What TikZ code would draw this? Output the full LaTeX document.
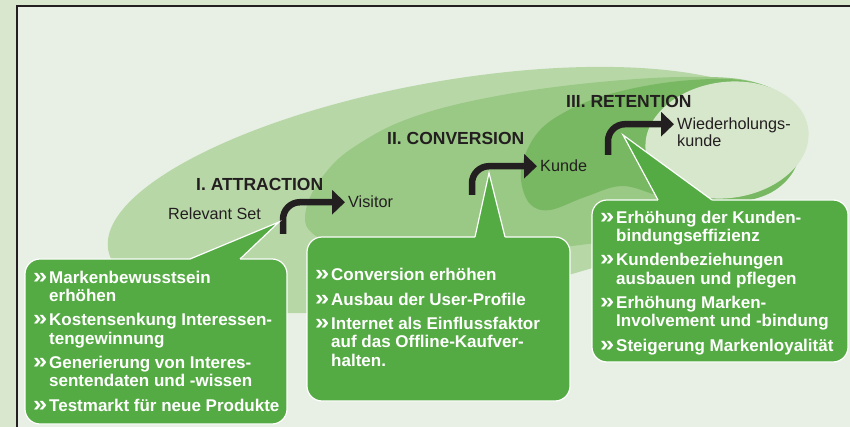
\documentclass[tikz,border=0pt]{standalone}
\usepackage{fontspec}
\usepackage{graphicx}
\setmainfont{Liberation Sans}
\usetikzlibrary{arrows.meta}

\definecolor{outerbg}{HTML}{D8E7CE}
\definecolor{innerbg}{HTML}{E8F0E5}
\definecolor{zoneA}{HTML}{B7D7A7}
\definecolor{zoneB}{HTML}{9AC885}
\definecolor{zoneC}{HTML}{78B862}
\definecolor{zoneD}{HTML}{D7E7CC}
\definecolor{boxgreen}{HTML}{55AB43}
\definecolor{ink}{HTML}{231F20}

% bullet and hanging indent for the list items
\newcommand{\bul}{\makebox[16pt][l]{\scalebox{1.5}[1.3]{»}}}
\newcommand{\ind}{\hspace*{16pt}}

\begin{document}
\begin{tikzpicture}[x=1pt,y=-1pt,
  heading/.style={font=\fontsize{17.5}{20}\selectfont\bfseries, text=ink, inner sep=0pt, anchor=base west},
  stage/.style={font=\fontsize{16.2}{17}\selectfont, text=ink, inner sep=0pt, anchor=base west, align=left},
  bent/.style={line width=6.5pt, draw=ink, rounded corners=17pt, -{Triangle[length=13pt,width=24pt]}, shorten >=3pt},
  callout/.style={fill=boxgreen, draw=white, line width=1.2pt},
  pointer/.style={draw=white, line width=1.2pt, line join=miter},
  boxtext/.style={font=\fontsize{17}{18.3}\selectfont\bfseries, text=white, inner sep=0pt, anchor=base west, align=left},
]
\useasboundingbox (0,0) rectangle (850,427);

% background and frame
\fill[outerbg] (0,0) rectangle (850,427);
\fill[innerbg] (17,6) rectangle (850,427);
\draw[ink, line width=1.8pt] (17,427) -- (17,6) -- (850,6);

% nested funnel zones
\fill[zoneA, rotate around={10:(450,190)}] (450,190) ellipse [x radius=347, y radius=109];
\fill[zoneB] plot[smooth cycle, tension=0.6] coordinates {
  (305,218) (312,193) (335,162) (365,140) (400,122) (450,106) (520,92) (600,82)
  (680,77) (745,80) (785,97) (798,125) (785,160) (745,200) (660,232) (580,245)
  (480,254) (380,252) (330,242) (311,232)};
\fill[zoneC] plot[smooth cycle, tension=0.6] coordinates {
  (521,180) (525,155) (540,130) (565,112) (600,97) (645,86) (692,80) (740,80)
  (778,92) (797,118) (801,145) (793,172) (772,192) (740,202) (700,204) (660,196)
  (622,186) (585,197) (550,210) (530,204)};
\fill[zoneD, rotate around={8:(727,140)}] (727,140) ellipse [x radius=82, y radius=58];

% stage headings and labels (multi-line nodes sit on their last baseline)
\node[heading] (h1) at (196,191) {I. ATTRACTION};
\node[heading] (h2) at (387,145) {II. CONVERSION};
\node[heading] (h3) at (566,108) {III. RETENTION};
\node[stage] (rel) at (168,220) {Relevant Set};
\node[stage] (vis) at (348,208) {Visitor};
\node[stage] (kun) at (540,172) {Kunde};
\node[stage] (wdh) at (677,147) {Wiederholungs-\\kunde};

% bent transition arrows
\coordinate (s1) at (283,234);
\coordinate (s2) at (472,195);
\coordinate (s3) at (608,155);
\draw[bent] (s1) |- (vis.west);
\draw[bent] (s2) |- (kun.west);
\draw[bent] (s3) |- ([yshift=22.8pt]wdh.base west);

% callout 1
\draw[callout, rounded corners=15pt] (25,259) rectangle (287,424);
\fill[boxgreen] (279,222) -- (190,259) -- (190,263) -- (240,263) -- (240,259) -- cycle;
\draw[pointer] (190,259) -- (279,222) -- (240,259);
\node[boxtext] (t1) at (33,411) {\bul Markenbewusstsein\\ \ind erhöhen\\[6pt]
  \bul Kostensenkung Interessen-\\ \ind tengewinnung\\[6pt]
  \bul Generierung von Interes-\\ \ind sentendaten und -wissen\\[6pt]
  \bul Testmarkt für neue Produkte};

% callout 2
\draw[callout, rounded corners=15pt] (307,237) rectangle (570,401);
\fill[boxgreen] (489,173) -- (475,237) -- (475,241) -- (505,241) -- (505,237) -- cycle;
\draw[pointer] (475,237) -- (489,173) -- (505,237);
\node[boxtext] (t2) at (315,366) {\bul Conversion erhöhen\\[6pt]
  \bul Ausbau der User-Profile\\[6pt]
  \bul Internet als Einflussfaktor\\ \ind auf das Offline-Kaufver-\\ \ind halten.};

% callout 3
\draw[callout, rounded corners=15pt] (592,200) rectangle (848,362);
\fill[boxgreen] (623,135) -- (658,200) -- (658,204) -- (712,204) -- (712,200) -- cycle;
\draw[pointer] (658,200) -- (623,135) -- (712,200);
\node[boxtext] (t3) at (600,351) {\bul Erhöhung der Kunden-\\ \ind bindungseffizienz\\[6pt]
  \bul Kundenbeziehungen\\ \ind ausbauen und pflegen\\[6pt]
  \bul Erhöhung Marken-\\ \ind Involvement und -bindung\\[6pt]
  \bul Steigerung Markenloyalität};
\end{tikzpicture}
\end{document}
